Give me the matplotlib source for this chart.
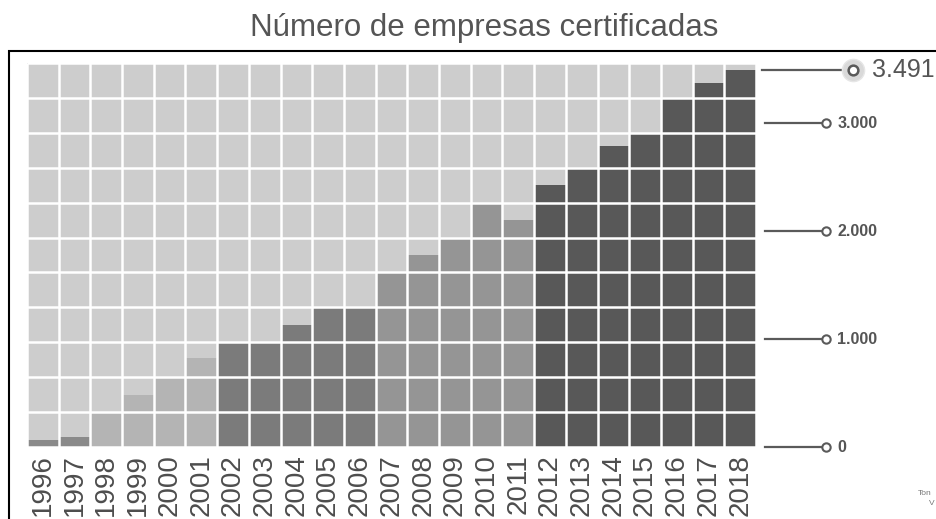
import matplotlib
matplotlib.use('Agg')
import matplotlib.pyplot as plt
from matplotlib.patches import Rectangle

plt.rcParams['font.family'] = ['Liberation Sans', 'DejaVu Sans']

# data
years = [str(y) for y in range(1996, 2019)]
empresas = [65, 95, 312, 481, 636, 821, 960, 960, 1130, 1284, 1284,
            1608, 1778, 1932, 2257, 2102, 2426, 2581, 2787, 2905,
            3229, 3368, 3491]
grupo = [0, 0, 1, 1, 1, 1, 2, 2, 2, 2, 2,
         3, 3, 3, 3, 3, 4, 4, 4, 4, 4, 4, 4]
ticks_valores = [0, 1000, 2000, 3000]
ticks_textos = ['0', '1.000', '2.000', '3.000']
total = 3491
total_texto = '3.491'

colores_grupo = ['#8a8a8a', '#b4b4b4', '#7b7b7b', '#959595', '#585858']
fondo = '#cdcdcd'
gris_texto = '#555555'

W, H = 936, 519
fig = plt.figure(figsize=(W / 100, H / 100), dpi=100)

# axes placed in pixel terms: grid from x=27 to 756, y=63 to 447
px_unit = (756 - 27) / 23.0
left = 27 / W
bottom = (H - 447) / H
top = (H - 63) / H
ax = fig.add_axes([left, bottom, 1 - left, top - bottom])
xmax = 22.5 + (W - 756) / px_unit
ymax = 3556
n_filas = 11

x = list(range(len(years)))
ax.bar(x, [ymax] * len(x), width=1.0, color=fondo, zorder=1)
ax.bar(x, empresas, width=1.0, color=[colores_grupo[g] for g in grupo], zorder=2)

# white grid that splits everything into cells
for k in range(len(x) + 1):
    ax.plot([k - 0.5, k - 0.5], [0, ymax], color='white', lw=1.8, zorder=3,
            solid_capstyle='butt')
for r in range(n_filas + 1):
    yy = ymax * r / n_filas
    ax.plot([-0.5, 22.5], [yy, yy], color='white', lw=1.8, zorder=3,
            solid_capstyle='butt')

ax.set_xlim(-0.5, xmax)
ax.set_ylim(0, ymax)
for s in ax.spines.values():
    s.set_visible(False)
ax.set_yticks([])
ax.set_xticks(x)
ax.set_xticklabels(years, rotation=90, fontsize=20, color='#4d4d4d')
ax.tick_params(axis='x', length=0, pad=5)
for lab in ax.get_xticklabels():
    lab.set_va('top')

# right-hand scale markers
x0 = (765 - 27) / px_unit - 0.5
xc = (826 - 27) / px_unit - 0.5
for v, t in zip(ticks_valores, ticks_textos):
    ax.plot([x0, xc], [v, v], color='#5a5a5a', lw=1.6, zorder=4, clip_on=False)
    ax.plot([xc], [v], 'o', ms=6, mfc='white', mec='#5a5a5a', mew=1.5,
            zorder=5, clip_on=False)
    ax.text(xc + 0.35, v, t, fontsize=11.5, color=gris_texto,
            fontweight='bold', va='center', ha='left', clip_on=False)

xt0 = (762 - 27) / px_unit - 0.5
xtc = (853 - 27) / px_unit - 0.5
ax.plot([xt0, xtc], [total, total], color='#5a5a5a', lw=1.6, zorder=4, clip_on=False)
ax.plot([xtc], [total], 'o', ms=16, mfc='#d9d9d9', mec='#e6e6e6', zorder=5, clip_on=False)
ax.plot([xtc], [total], 'o', ms=7, mfc='white', mec='#5a5a5a', mew=1.8,
        zorder=6, clip_on=False)
ax.text(xtc + 0.6, total, total_texto, fontsize=18, color=gris_texto,
        va='center', ha='left', clip_on=False)

# title and frame
fig.text(484 / W, 1 - 36 / H, 'Número de empresas certificadas', fontsize=22.5,
         color=gris_texto, ha='center', va='baseline')
fig.add_artist(Rectangle((9 / W, -0.1), 1.2, 1.1 - 51 / H, transform=fig.transFigure,
                         fill=False, edgecolor='black', lw=1.5, clip_on=False))

fig.text(918 / W, 1 - 495 / H, 'Ton', fontsize=6, color='#777777', ha='left')
fig.text(929 / W, 1 - 505 / H, 'V', fontsize=6, color='#777777', ha='left')

fig.savefig('out.png', dpi=100)
